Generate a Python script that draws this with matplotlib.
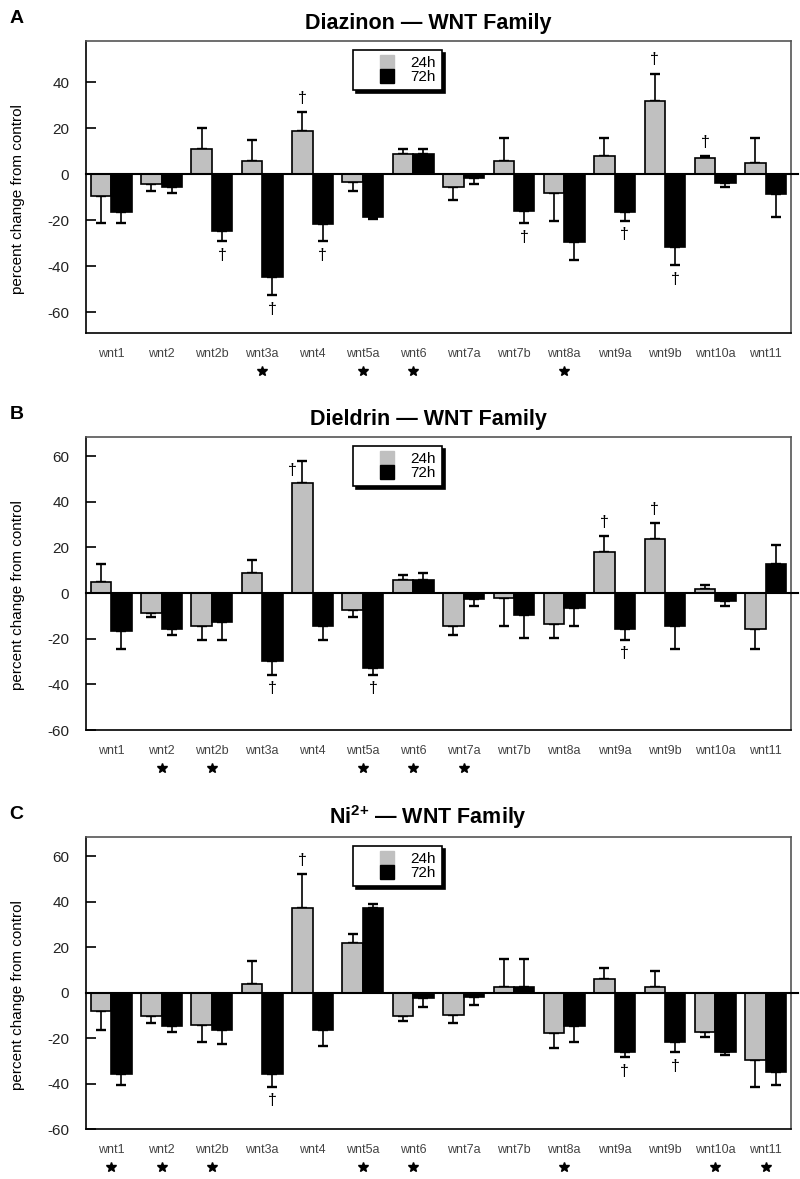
import matplotlib

matplotlib.use("Agg")
import matplotlib.pyplot as plt
import numpy as np
from matplotlib.lines import Line2D

plt.rcParams["font.family"] = ["Liberation Sans", "DejaVu Sans"]
plt.rcParams["mathtext.fontset"] = "custom"
plt.rcParams["mathtext.rm"] = "Liberation Sans"
plt.rcParams["mathtext.bf"] = "Liberation Sans:bold"
plt.rcParams["axes.unicode_minus"] = False

GENES = ["wnt1", "wnt2", "wnt2b", "wnt3a", "wnt4", "wnt5a", "wnt6",
         "wnt7a", "wnt7b", "wnt8a", "wnt9a", "wnt9b", "wnt10a", "wnt11"]
TIMES = ["24h", "72h"]

# Diazinon (panel A)
DIAZ_24 = [-9.5, -4.4, 11.0, 5.8, 18.8, -3.5, 8.8, -5.7, 5.8, -8.2, 7.9, 32.0, 6.9, 4.8]
DIAZ_24_SEM = [11.8, 3.0, 9.0, 9.1, 8.2, 3.9, 2.2, 5.7, 10.1, 12.1, 8.0, 11.8, 1.0, 11.1]
DIAZ_72 = [-16.6, -5.7, -24.5, -44.7, -21.6, -18.7, 8.9, -1.6, -15.8, -29.6, -16.6, -31.8, -3.8, -8.5]
DIAZ_72_SEM = [4.7, 2.5, 4.7, 7.9, 7.6, 0.9, 2.1, 2.8, 5.5, 7.8, 3.7, 7.8, 1.7, 9.9]
DIAZ_DAGGER_24 = ["wnt4", "wnt9b", "wnt10a"]
DIAZ_DAGGER_72 = ["wnt2b", "wnt3a", "wnt4", "wnt7b", "wnt9a", "wnt9b"]
DIAZ_STARS = ["wnt3a", "wnt5a", "wnt6", "wnt8a"]

# Dieldrin (panel B)
DIEL_24 = [4.8, -8.6, -14.5, 8.8, 48.0, -7.3, 5.6, -14.6, -2.2, -13.5, 17.9, 23.7, 1.8, -15.7]
DIEL_24_SEM = [7.9, 1.9, 6.0, 5.8, 10.0, 3.2, 2.2, 4.0, 12.3, 6.1, 7.0, 7.0, 1.9, 8.7]
DIEL_72 = [-16.7, -15.7, -12.7, -29.9, -14.6, -32.8, 5.9, -2.5, -9.8, -6.6, -15.7, -14.6, -3.5, 12.9]
DIEL_72_SEM = [7.7, 2.9, 7.8, 5.8, 5.9, 2.9, 2.9, 3.2, 9.8, 7.9, 4.8, 9.8, 2.2, 8.0]
DIEL_DAGGER_24 = ["wnt4", "wnt9a", "wnt9b"]
DIEL_DAGGER_72 = ["wnt3a", "wnt5a", "wnt9a"]
DIEL_STARS = ["wnt2", "wnt2b", "wnt5a", "wnt6", "wnt7a"]

# Ni2+ (panel C)
NI_24 = [-8.2, -10.4, -14.3, 4.0, 37.2, 21.9, -10.4, -9.7, 2.6, -17.8, 5.9, 2.6, -17.5, -29.6]
NI_24_SEM = [8.1, 3.0, 7.3, 10.0, 14.8, 4.0, 2.0, 3.7, 12.1, 6.6, 4.8, 7.1, 1.9, 11.9]
NI_72 = [-35.9, -14.6, -16.5, -35.9, -16.5, 37.2, -2.4, -1.8, 2.6, -14.6, -25.9, -21.9, -25.9, -34.7]
NI_72_SEM = [4.7, 2.9, 6.1, 5.6, 7.0, 1.9, 4.1, 3.6, 12.1, 7.0, 2.6, 4.4, 1.5, 5.9]
NI_DAGGER_24 = ["wnt4"]
NI_DAGGER_72 = ["wnt3a", "wnt9a", "wnt9b"]
NI_STARS = ["wnt1", "wnt2", "wnt2b", "wnt5a", "wnt6", "wnt8a", "wnt10a", "wnt11"]

GRAY = "#c0c0c0"
WIDTH = 0.405


def draw_series(ax, xs, vals, sems, color, daggers, dagger_left=()):
    vals = np.asarray(vals)
    sems = np.asarray(sems)
    lo = np.where(vals < 0, sems, 0)
    hi = np.where(vals >= 0, sems, 0)
    ax.errorbar(xs, vals, yerr=[lo, hi], fmt="none", ecolor="black",
                elinewidth=1.2, capsize=3.6, capthick=1.7, zorder=1.5)
    ax.bar(xs, vals, WIDTH, color=color, edgecolor="black", linewidth=1.2, zorder=2)
    ends = vals + np.sign(vals) * sems
    for g in daggers:
        i = GENES.index(g)
        up = vals[i] >= 0
        offset = (0, 10) if up else (0, -10)
        if g in dagger_left:
            offset = (-7, -7)
        ax.annotate("\u2020", (xs[i], ends[i]), xytext=offset, textcoords="offset points",
                    ha="center", va="center", fontsize=11.5)


def draw_panel(ax, v24, e24, v72, e72, d24, d72, stars, ylim, yticks, dagger_left=()):
    x = np.arange(len(GENES))
    ax.axhline(0, color="black", lw=1.5, zorder=3, xmax=1.01, clip_on=False)
    draw_series(ax, x - WIDTH / 2, v24, e24, GRAY, d24, dagger_left)
    draw_series(ax, x + WIDTH / 2, v72, e72, "black", d72)

    ax.set_xlim(-0.5, len(GENES) - 0.5)
    ax.set_ylim(*ylim)
    ax.set_yticks(yticks)
    ax.tick_params(axis="y", direction="in", length=7, width=1.2, labelsize=11,
                   labelcolor="#222222", pad=12)
    ax.set_xticks(x, GENES)
    ax.tick_params(axis="x", length=0, labelsize=9, labelcolor="#444444", pad=11)
    for side, sp in ax.spines.items():
        sp.set_linewidth(1.2)
        sp.set_color("black" if side in ("left", "bottom") else "#555555")

    star_x = [GENES.index(g) for g in stars]
    ax.plot(star_x, [-0.13] * len(star_x), ls="none", marker="*", ms=7, color="black",
            transform=ax.get_xaxis_transform(), clip_on=False)

    ax.set_ylabel("percent change from control", fontsize=11)
    ax.yaxis.set_label_coords(-0.0865, 0.46)

    handles = [Line2D([], [], ls="none", marker="s", ms=10, mfc=GRAY, mec=GRAY),
               Line2D([], [], ls="none", marker="s", ms=10, mfc="black", mec="black")]
    leg = ax.legend(handles, TIMES, loc="upper left", bbox_to_anchor=(0.379, 0.969),
                    borderaxespad=0, fontsize=11, handlelength=3.6, handletextpad=-0.25,
                    borderpad=0.4, labelspacing=0.0, frameon=True, fancybox=False,
                    edgecolor="black", framealpha=1,
                    shadow={"color": "black", "alpha": 1})
    leg.get_frame().set_linewidth(1.2)


fig = plt.figure(figsize=(8, 11.79), dpi=100)
left, width = 0.1075, 0.881
ax_a = fig.add_axes([left, 0.7176, width, 0.2477])
ax_b = fig.add_axes([left, 0.3808, width, 0.2485])
ax_c = fig.add_axes([left, 0.0424, width, 0.2477])

draw_panel(ax_a, DIAZ_24, DIAZ_24_SEM, DIAZ_72, DIAZ_72_SEM, DIAZ_DAGGER_24, DIAZ_DAGGER_72,
           DIAZ_STARS, (-69, 58), [-60, -40, -20, 0, 20, 40])
draw_panel(ax_b, DIEL_24, DIEL_24_SEM, DIEL_72, DIEL_72_SEM, DIEL_DAGGER_24, DIEL_DAGGER_72,
           DIEL_STARS, (-60, 68.3), [-60, -40, -20, 0, 20, 40, 60], dagger_left=("wnt4",))
draw_panel(ax_c, NI_24, NI_24_SEM, NI_72, NI_72_SEM, NI_DAGGER_24, NI_DAGGER_72,
           NI_STARS, (-60, 68.5), [-60, -40, -20, 0, 20, 40, 60])

titles = ["Diazinon \u2014 WNT Family", "Dieldrin \u2014 WNT Family",
          "Ni$^{\\mathbf{2{+}}}$ \u2014 WNT Family"]
title_base = [29, 425, 824]
letter_base = [23, 419, 819]
for title, ty, letter, ly in zip(titles, title_base, "ABC", letter_base):
    fig.text(0.535, 1 - ty / 1179, title, ha="center", va="baseline",
             fontsize=15.5, fontweight="bold")
    fig.text(0.012, 1 - ly / 1179, letter, ha="left", va="baseline",
             fontsize=14, fontweight="bold")

fig.savefig("out.png", dpi=100)
